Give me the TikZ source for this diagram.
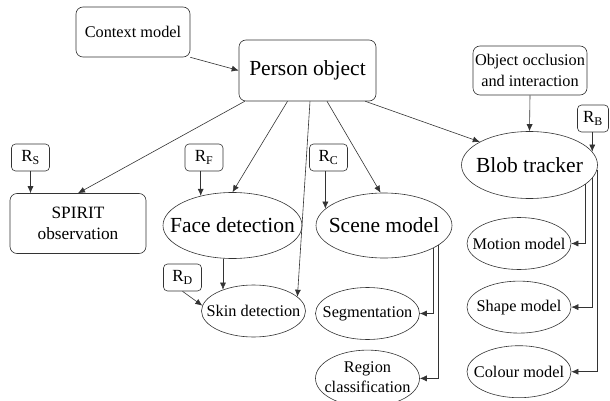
\documentclass[tikz,border=0pt]{standalone}
\usepackage{fontspec}
\setmainfont{LiberationSerif}[Extension=.ttf, UprightFont=*-Regular, BoldFont=*-Bold, ItalicFont=*-Italic]
\usepackage{tikz}
\usetikzlibrary{arrows.meta, positioning, shapes.geometric}
\newcommand{\ovaltext}[1]{\makebox[0pt]{#1}}

\begin{document}
\begin{tikzpicture}[
  x=1pt, y=-1pt,
  box/.style={draw=black!80, line width=0.6pt, rounded corners=7pt, align=center, inner sep=2pt, font=\rmfamily\fontsize{16.3}{21}\selectfont},
  bigbox/.style={box, font=\rmfamily\fontsize{21.5}{24}\selectfont},
  rbox/.style={draw=black!80, line width=0.6pt, rounded corners=4pt, minimum width=38pt, minimum height=27pt, inner sep=0pt, font=\rmfamily\fontsize{17}{20}\selectfont},
  oval/.style={draw=black!80, line width=0.6pt, ellipse, inner sep=0pt, minimum width=104pt, minimum height=52pt, font=\rmfamily\fontsize{16.3}{20}\selectfont},
  bigoval/.style={oval, minimum width=137pt, minimum height=66pt, font=\rmfamily\fontsize{21.5}{24}\selectfont},
  arrow/.style={-{Latex[length=7pt, width=6pt]}, draw=black!80, line width=0.6pt},
  node distance=11pt
]
  \useasboundingbox (0,0) rectangle (610,401);

  \node[box, minimum width=114pt, minimum height=50pt] (ctx) at (133,32) {Context model};
  \node[bigbox, minimum width=137pt, minimum height=61pt] (person) at (307.5,70.5) {Person object};
  \node[box, minimum width=114pt, minimum height=49pt] (occl) at (530,70.5) {Object occlusion\\and interaction};
  \node[box, minimum width=136pt, minimum height=60pt, font=\rmfamily\fontsize{17.3}{21.5}\selectfont] (spirit) at (78,223.5) {SPIRIT\\observation};

  \node[rbox] (rs) at (30.5,157.5) {R\textsubscript{S}};
  \node[rbox] (rf) at (204,157.5) {R\textsubscript{F}};
  \node[rbox] (rc) at (328.5,157.5) {R\textsubscript{C}};
  \node[rbox] (rd) at (182.5,277.5) {R\textsubscript{D}};
  \node[rbox, minimum width=31pt] (rb) at (593,118.5) {R\textsubscript{B}};

  \node[bigoval, minimum width=139pt] (face) at (232.5,225.5) {\ovaltext{Face detection}};
  \node[bigoval, minimum width=136pt, minimum height=65pt] (scene) at (384,225.5) {\ovaltext{Scene model}};
  \node[bigoval, minimum width=136pt, minimum height=67pt] (blob) at (529.5,165) {\ovaltext{Blob tracker}};
  \node[oval] (skin) at (253.5,311) {\ovaltext{Skin detection}};
  \node[oval] (seg) at (367.5,313.5) {\ovaltext{Segmentation}};
  \node[oval, below=10pt of seg] (region) {\ovaltext{\begin{tabular}{@{}c@{}}Region\\classification\end{tabular}}};
  \node[oval] (motion) at (519,243.5) {\ovaltext{Motion model}};
  \node[oval, below=of motion] (shape) {\ovaltext{Shape model}};
  \node[oval, below=12pt of shape] (colour) {\ovaltext{Colour model}};

  \draw[arrow] (ctx.south east) -- (person.west);
  \draw[arrow] ([xshift=6pt]person.south west) -- (spirit.north);
  \draw[arrow] ([xshift=-20pt]person.south) -- (face.north);
  \draw[arrow] ([xshift=2.5pt]person.south) -- (skin.18);
  \draw[arrow] ([xshift=19.5pt]person.south) -- (scene.96);
  \draw[arrow] ([xshift=-11pt]person.south east) -- (blob.155);
  \draw[arrow] (occl.south) -- (blob.north);

  \draw[arrow] (rs.south) -- (rs.south |- spirit.north);
  \draw[arrow] (rf.south -| face.137) -- (face.137);
  \draw[arrow] (rc.south -| scene.164) -- (scene.164);
  \draw[arrow] (rb.south -| blob.12) -- (blob.12);
  \draw[arrow] (rd.south) -- (skin.174);
  \draw[arrow] (face.south -| skin.145) -- (skin.145);

  \draw[arrow] (scene.-25) |- (seg.east);
  \draw[arrow] (scene.-20) |- (region.east);
  \draw[arrow] (blob.-19) |- (motion.east);
  \draw[arrow] (blob.-12) |- (shape.east);
  \draw[arrow] (blob.-4) |- (colour.east);
\end{tikzpicture}
\end{document}
